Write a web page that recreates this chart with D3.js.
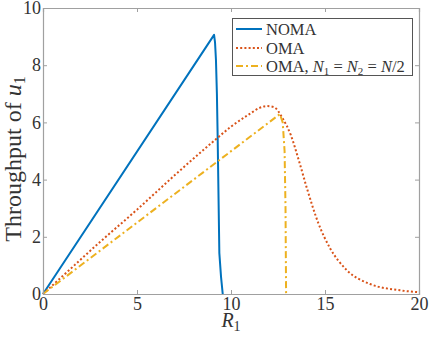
<!DOCTYPE html>
<html>
<head>
<meta charset="utf-8">
<script src="https://cdn.jsdelivr.net/npm/d3@7"></script>
<style>
    body { margin: 0; background: #fff; }
    svg text { font-family: 'Liberation Serif', 'DejaVu Serif', serif; fill: #333; }
</style>
</head>
<body>
<svg width="429" height="339"></svg>
<script>
// values
const xTicks = [0, 5, 10, 15, 20];
const yTicks = [0, 2, 4, 6, 8, 10];

const nomaR = [0, 9.1, 9.15, 9.2, 9.25, 9.29, 9.38, 9.47, 9.56];
const nomaT = [0, 9.06, 8.8, 8.18, 7.0, 5.5, 1.43, 0.6, 0];

const omaR = [0, 1, 3, 5, 7, 9, 10, 11, 11.5, 11.9, 12.29, 12.75, 13.18, 13.63, 14.06, 14.65, 15.27, 16.15, 17.39, 18.99, 20];
const omaT = [0, 0.6, 1.8, 2.95, 4.15, 5.3, 5.85, 6.3, 6.5, 6.57, 6.53, 6.14, 5.56, 4.62, 3.65, 2.47, 1.6, 0.84, 0.35, 0.13, 0.06];

const omaEqR = [0, 12.6, 12.75, 12.85, 12.9, 12.93];
const omaEqT = [0, 6.29, 6.0, 5.0, 3.0, 0];

const series = [
    { name: 'NOMA', r: nomaR, t: nomaT, color: '#0072BD', dash: null, curve: d3.curveLinear },
    { name: 'OMA', r: omaR, t: omaT, color: '#D95319', dash: '2,2.2', curve: d3.curveMonotoneX },
    { name: 'OMAeq', r: omaEqR, t: omaEqT, color: '#EDB120', dash: '7,3,2,3', curve: d3.curveLinear },
];

const serif = "'Liberation Serif', 'Times New Roman', serif";
const svg = d3.select('svg');
const axisColor = '#a0a0a0';

const xScale = d3.scaleLinear().domain([0, 20]).range([43, 419]);
const yScale = d3.scaleLinear().domain([0, 10]).range([294, 8]);

// lines
series.forEach((s) => {
    const pts = s.r.map((r, i) => [r, s.t[i]]);
    const lineGenerator = d3.line()
        .x((d) => xScale(d[0]))
        .y((d) => yScale(d[1]))
        .curve(s.curve);
    svg.append('path')
        .attr('d', lineGenerator(pts))
        .attr('fill', 'none')
        .attr('stroke', s.color)
        .attr('stroke-width', 2)
        .attr('stroke-dasharray', s.dash)
        .attr('stroke-linejoin', 'round');
});

// axes (ticks inside, mirrored on top/right)
const tickLen = 4;
const gx = svg.append('g').attr('transform', `translate(0,${yScale(0)})`)
    .call(d3.axisBottom(xScale).tickValues(xTicks).tickSize(-tickLen).tickPadding(3));
const gxTop = svg.append('g').attr('transform', `translate(0,${yScale(10)})`)
    .call(d3.axisTop(xScale).tickValues(xTicks).tickSize(-tickLen).tickFormat(''));
const gy = svg.append('g').attr('transform', `translate(${xScale(0)},0)`)
    .call(d3.axisLeft(yScale).tickValues(yTicks).tickSize(-tickLen).tickPadding(2));
const gyRight = svg.append('g').attr('transform', `translate(${xScale(20)},0)`)
    .call(d3.axisRight(yScale).tickValues(yTicks).tickSize(-tickLen).tickFormat(''));

[gx, gxTop, gy, gyRight].forEach((g) => {
    g.attr('font-family', serif).attr('font-size', 18);
    g.selectAll('.domain').attr('stroke', axisColor).attr('stroke-width', 1.2);
    g.selectAll('.tick line').attr('stroke', axisColor);
    g.selectAll('.tick text')
        .attr('font-family', serif)
        .attr('font-size', 18)
        .attr('fill', '#333');
});

// axis labels
const xl = svg.append('text')
    .attr('x', 231).attr('y', 327)
    .attr('text-anchor', 'middle')
    .attr('font-size', 20);
xl.append('tspan').attr('font-style', 'italic').text('R');
xl.append('tspan').attr('font-size', 14).attr('dy', 4).text('1');

const yl = svg.append('text')
    .attr('transform', `translate(21,159) rotate(-90)`)
    .attr('text-anchor', 'middle')
    .attr('font-size', 24);
yl.append('tspan').text('Throughput of ');
yl.append('tspan').attr('font-style', 'italic').text('u');
yl.append('tspan').attr('font-size', 16).attr('dy', 4).text('1');

// legend
const legend = svg.append('g');
legend.append('rect')
    .attr('x', 232.5).attr('y', 18.5)
    .attr('width', 180).attr('height', 57)
    .attr('fill', '#fff')
    .attr('stroke', '#555')
    .attr('stroke-width', 1);

const legendY = [29, 48, 66];
series.forEach((s, i) => {
    legend.append('line')
        .attr('x1', 236).attr('x2', 262)
        .attr('y1', legendY[i]).attr('y2', legendY[i])
        .attr('stroke', s.color)
        .attr('stroke-width', 2)
        .attr('stroke-dasharray', s.dash);
});

const fs = 16.5;
legend.append('text').attr('x', 266).attr('y', legendY[0] + 6).attr('font-size', fs).text('NOMA');
legend.append('text').attr('x', 266).attr('y', legendY[1] + 6).attr('font-size', fs).text('OMA');
const t3 = legend.append('text').attr('x', 266).attr('y', legendY[2] + 6).attr('font-size', fs);
t3.append('tspan').text('OMA, ');
t3.append('tspan').attr('font-style', 'italic').text('N');
t3.append('tspan').attr('font-size', 11).attr('dy', 3).text('1');
t3.append('tspan').attr('dy', -3).text(' = ');
t3.append('tspan').attr('font-style', 'italic').text('N');
t3.append('tspan').attr('font-size', 11).attr('dy', 3).text('2');
t3.append('tspan').attr('dy', -3).text(' = ');
t3.append('tspan').attr('font-style', 'italic').text('N');
t3.append('tspan').text('/2');
</script>
</body>
</html>
